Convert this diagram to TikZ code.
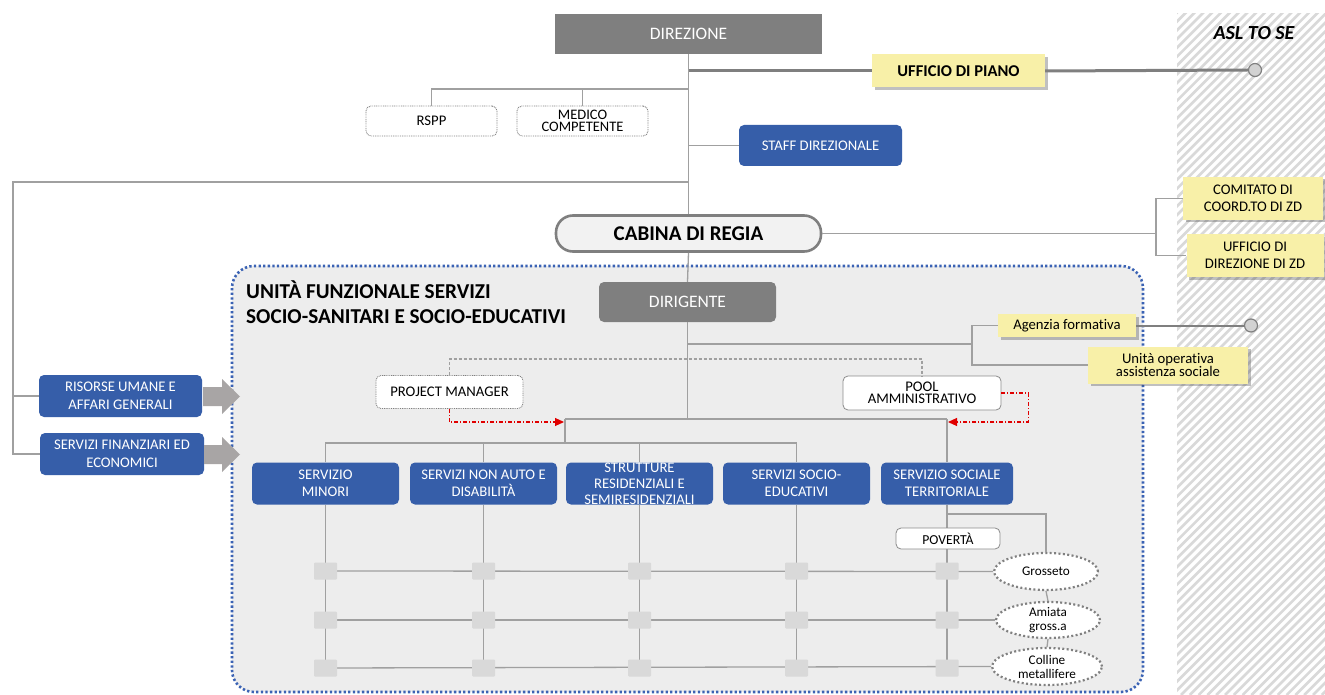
\documentclass[tikz,border=0pt]{standalone}
\usepackage{fontspec}
\setmainfont{Carlito}[Ligatures=NoCommon]
\usetikzlibrary{shadows,arrows.meta,calc,shapes.geometric}
\definecolor{dgray}{HTML}{7F7F7F}
\definecolor{lgray}{HTML}{A0A0A0}
\definecolor{blu}{HTML}{365EA9}
\definecolor{ylw}{HTML}{F8F0A8}
\definecolor{cont}{HTML}{EDEDED}
\definecolor{contb}{HTML}{3A62B4}
\definecolor{redd}{HTML}{E00000}
\definecolor{sqc}{HTML}{D9D9D9}
\definecolor{hatchc}{HTML}{D9D9D9}
\definecolor{arrg}{HTML}{A8A5A5}
\begin{document}
\begin{tikzpicture}[x=1pt,y=-1pt,
  sz/.style 2 args={minimum width=#1pt, minimum height=#2pt},
  base/.style={inner sep=0pt, align=center, font=\fontsize{14.7}{17.5}\selectfont},
  gbox/.style={base, fill=dgray, text=white, font=\fontsize{17.5}{20}\selectfont},
  bbox/.style={base, fill=blu, text=white, rounded corners=5pt},
  ybox/.style={base, fill=ylw, drop shadow={shadow xshift=2.5pt, shadow yshift=-2.5pt, opacity=0.35, fill=black!70}},
  dbox/.style={base, draw=gray, line width=0.9pt, dash pattern=on 0.9pt off 0.9pt, fill=white, rounded corners=5pt},
  wbox/.style={base, draw=gray!90, line width=0.8pt, fill=white, rounded corners=5pt},
  conn/.style={draw=lgray, line width=1.3pt},
  thickconn/.style={draw=dgray, line width=3pt},
  midconn/.style={draw=dgray, line width=2pt},
  dconn/.style={draw=lgray, line width=1.2pt, dash pattern=on 3pt off 2pt},
  rarrow/.style={draw=redd, line width=1.1pt, dash pattern=on 4pt off 2pt on 1pt off 2pt, -{Triangle[length=9pt,width=8pt]}},
  sqr/.style={fill=sqc, minimum width=23pt, minimum height=17pt, inner sep=0, rounded corners=1pt},
  ell/.style={ellipse, draw=gray, line width=2.2pt, dash pattern=on 2pt off 2.4pt, fill=white, inner sep=0, align=center, font=\fontsize{13.2}{14}\selectfont},
  endc/.style={circle, draw=gray, fill=gray!35, line width=1.2pt, minimum size=13pt, inner sep=0}
]
\useasboundingbox (0,0) rectangle (1325,695);
\fill[white] (0,0) rectangle (1325,695);
% hatched ASL band
\begin{scope}
\clip (1177,14) rectangle (1325,695);
\foreach \i in {0,...,96} { \draw[hatchc, line width=2.6pt] (477+\i*8.8,695) -- ++(700,-700); }
\end{scope}
\node[font=\bfseries\itshape\fontsize{20}{22}\selectfont, inner sep=0] (asl) at (1254,33) {ASL TO SE};

% container
\node[draw=contb, fill=cont, line width=2.6pt, dash pattern=on 2.3pt off 2.3pt, rounded corners=22pt, sz={911}{426}, inner sep=0] (uf) at (687.5,479) {};
\node[anchor=base west, inner sep=0, font=\bfseries\fontsize{21.2}{24}\selectfont] (t1) at (246,298) {UNITÀ FUNZIONALE SERVIZI};
\node[anchor=base west, inner sep=0, font=\bfseries\fontsize{21.2}{24}\selectfont] (t2) at (246,323) {SOCIO-SANITARI E SOCIO-EDUCATIVI};

% top nodes
\node[gbox, sz={267}{40}] (dir) at (688.5,34) {DIREZIONE};
\node[ybox, sz={173}{33}, font=\bfseries\fontsize{16.5}{18}\selectfont] (uff) at (958.5,71) {UFFICIO DI PIANO};
\node[endc] (c1) at (1255,70) {};
\node[dbox, sz={131}{30}] (rspp) at (431.5,121) {RSPP};
\node[dbox, sz={131}{30}, font=\fontsize{14.5}{12.5}\selectfont] (med) at (582.5,121) {MEDICO\\COMPETENTE};
\node[bbox, sz={163}{41}] (staff) at (820.5,145.5) {STAFF DIREZIONALE};
\node[base, draw=dgray, line width=2.6pt, fill=gray!10, rounded corners=17pt, sz={265}{36}, font=\bfseries\fontsize{21}{23}\selectfont] (cab) at (688.5,233.5) {CABINA DI REGIA};
\node[ybox, sz={140}{43}] (com) at (1253,198.5) {COMITATO DI\\COORD.TO DI ZD};
\node[ybox, sz={137}{43}] (udz) at (1255,255.5) {UFFICIO DI\\DIREZIONE DI ZD};
\node[bbox, sz={163}{42}] (ris) at (120.5,396) {RISORSE UMANE E\\AFFARI GENERALI};
\node[bbox, sz={164}{42}] (sfin) at (122,454) {SERVIZI FINANZIARI ED\\ECONOMICI};

% connectors top
\coordinate (j89) at (688.5,89);
\coordinate (L) at (13,182);
\coordinate (bk) at (1156,233.5);
\draw[conn] (dir.south) -- (cab.north);
\draw[thickconn] (dir.south |- uff.west) -- (uff.west);
\draw[thickconn] (uff.east) -- (c1.west);
\draw[conn] (j89) -| (rspp.north);
\draw[conn] (med.north) -- (med.north |- j89);
\draw[conn] (staff.west) -- (staff.west -| dir.south);
\draw[conn] (dir.south |- L) -- (L) |- (sfin.west);
\draw[conn] (L |- ris.west) -- (ris.west);
\draw[conn] (cab.east) -- (bk);
\draw[conn] (com.west) -| (bk) |- (udz.west);

% big gray arrows
\fill[arrg] (203,387) -- (222,387) -- (222,379) -- (240,396.5) -- (222,414) -- (222,406) -- (203,406) -- cycle;
\fill[arrg] (204,445) -- (222,445) -- (222,437) -- (240,454.5) -- (222,472) -- (222,464) -- (204,464) -- cycle;

% inside unit
\node[gbox, rounded corners=5pt, sz={177}{40}] (dirig) at (687.5,302) {DIRIGENTE};
\node[ybox, sz={138}{23}] (agf) at (1067,325.5) {Agenzia formativa};
\node[ybox, sz={160}{37}, font=\fontsize{14.7}{13.5}\selectfont] (uop) at (1168,365) {Unità operativa\\assistenza sociale};
\node[endc] (c2) at (1251,325.5) {};
\node[dbox, sz={147}{33}] (pm) at (449.5,392) {PROJECT MANAGER};
\node[wbox, sz={158}{34}, font=\fontsize{14.7}{12.5}\selectfont] (pool) at (922,393) {POOL\\AMMINISTRATIVO};

\draw[conn] (cab.south) -- (dirig.north);
\coordinate (barL) at (565,419);
\coordinate (barR) at (947,419);
\coordinate (ag) at (972,344);
\draw[conn] (dirig.south) -- (dirig.south |- barL);
\draw[conn] (barL) -- (barR);
\draw[conn] (dirig.south |- ag) -- (ag);
\draw[conn] (agf.west) -| (ag) |- (uop.west);
\draw[midconn] (agf.east) -- (c2.west);
\draw[dconn] (pm.north) -- ++(0,-16) -| (pool.north);
\coordinate (ra) at (564,422);
\coordinate (rb) at (948,422);
\draw[rarrow] (pm.south) |- (ra);
\draw[rarrow] (pool.east) -- ++(27,0) |- (rb);

% services
\node[bbox, sz={147}{42}] (smin) at (325.5,483.5) {SERVIZIO\\MINORI};
\node[bbox, sz={147}{42}] (snad) at (483.5,483.5) {SERVIZI NON AUTO E\\DISABILITÀ};
\node[bbox, sz={147}{42}, font=\fontsize{14.7}{16}\selectfont] (str) at (639.5,483.5) {STRUTTURE\\RESIDENZIALI E\\SEMIRESIDENZIALI};
\node[bbox, sz={147}{42}] (sse) at (796.5,483.5) {SERVIZI SOCIO-\\EDUCATIVI};
\node[bbox, sz={132}{42}] (sst) at (947,483.5) {SERVIZIO SOCIALE\\TERRITORIALE};

\coordinate (sl) at (326,443);
\draw[conn] (barL) -- (barL |- sl);
\draw[conn] (smin.north) |- (sse.north |- sl) -- (sse.north);
\draw[conn] (snad.north) -- (snad.north |- sl);
\draw[conn] (str.north) -- (str.north |- sl);
\draw[conn] (barR) -- (sst.north);

% ellipses
\node[ell, sz={104}{37}] (gro) at (1046,571.5) {Grosseto};
\node[ell, sz={104}{36}] (ami) at (1048,620) {Amiata\\gross.a};
\node[ell, sz={110}{37}] (col) at (1047,666.5) {Colline\\metallifere};

\coordinate (r1) at (0,571);
\coordinate (r2) at (0,620);
\coordinate (r3) at (0,668);
\coordinate (pb) at (947,514);
\foreach \c in {smin,snad,str,sse,sst} { \draw[conn] (\c.south) -- (\c.south |- r3); }
\draw[conn] (smin.south |- r1) -- (gro.west);
\draw[conn] (smin.south |- r2) -- (ami.west);
\draw[conn] (smin.south |- r3) -- (col.west);
\draw[conn] (sst.south |- pb) -| (gro.north);
\draw[conn] (gro.south) -- (ami.north);
\draw[conn] (ami.south) -- (col.north);
\node[wbox, sz={104}{21}, font=\fontsize{13.7}{15}\selectfont] (pov) at (948,538.5) {POVERTÀ};
\foreach \c in {smin,snad,str,sse,sst} {
  \foreach \r in {r1,r2,r3} { \node[sqr] at (\c.south |- \r) {}; }
}
\end{tikzpicture}
\end{document}
